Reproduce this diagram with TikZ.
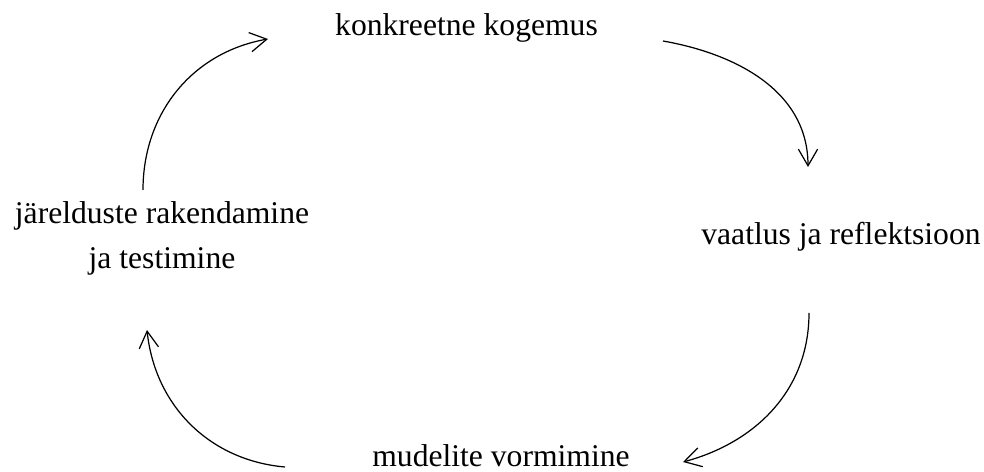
\documentclass[tikz,border=0pt]{standalone}
\usepackage{fontspec}
\setmainfont{Liberation Serif}
\usetikzlibrary{arrows.meta}

\begin{document}
\begin{tikzpicture}[x=0.02cm, y=0.02cm,
        stage/.style={inner sep=0pt, font=\fontsize{18}{25.5}\selectfont},
        cycle/.style={line width=0.7pt, -{Straight Barb[length=9.5pt, width=11pt]}}]
        \useasboundingbox (0,0) rectangle (984,-472);

        % Stages.
        \node[stage, anchor=base] (kogemus) at (466.5,-36) {konkreetne kogemus};
        \node[stage, anchor=base] (vaatlus) at (841,-245) {vaatlus ja reflektsioon};
        \node[stage, anchor=base] (mudelid) at (501,-467) {mudelite vormimine};
        \node[stage, anchor=north, align=center] (testimine) at (162,-201) {järelduste rakendamine\\ja testimine};

        % Arc ends.
        \coordinate (k1) at (143,-190);
        \coordinate (k2) at (268,-39);
        \coordinate (v1) at (663,-41);
        \coordinate (v2) at (808,-167);
        \coordinate (r1) at (809,-313);
        \coordinate (r2) at (683,-462);
        \coordinate (b1) at (285,-467);
        \coordinate (b2) at (147,-330);

        \draw[cycle] (k1) to[out=90, in=190] (k2);
        \draw[cycle] (v1) to[out=-10, in=90] (v2);
        \draw[cycle] (r1) to[out=-90, in=15] (r2);
        \draw[cycle] (b1) to[out=175, in=-84] (b2);

    \end{tikzpicture}
\end{document}
